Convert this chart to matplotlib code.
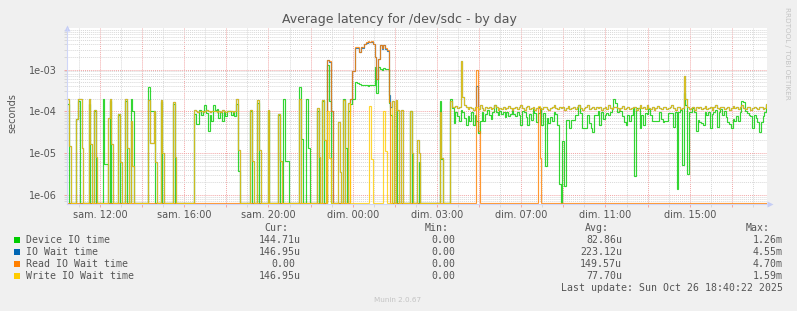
import numpy as np
import matplotlib
matplotlib.use("Agg")
import matplotlib.pyplot as plt
from matplotlib.patches import Rectangle
from matplotlib.ticker import FixedLocator, NullFormatter, FuncFormatter

# ---------------- data (microseconds, 5-minute samples) ----------------
# sample 0 = sam. 10:30 (hours relative to sam. 12:00, continuous time)
start_hour = -1.5
step_hour = 5 / 60

device_io = [
    150, 0, 0, 0, 0, 65, 180, 0, 0, 0, 0, 0, 150, 0, 0, 100, 0, 0, 0, 0,
    200, 5.5, 5.5, 0, 180, 0, 0, 0, 0, 80, 0, 0, 0, 180, 0, 0, 200, 100, 0, 0,
    0, 0, 0, 0, 0, 0, 390, 100, 100, 100, 0, 0, 0, 170, 0, 0, 0, 0, 0, 0,
    150, 0, 0, 0, 0, 0, 0, 0, 0, 0, 0, 0, 85, 50, 50, 105, 82, 100, 140, 90,
    33, 80, 57, 145, 105, 115, 68, 95, 60, 95, 75, 102, 102, 82, 95, 75, 150, 3.7, 0, 0,
    0, 0, 0, 0, 100, 0, 0, 0, 160, 0, 0, 0, 0, 0, 100, 0, 0, 0, 0, 0,
    80, 0, 0, 200, 6.5, 6.5, 0, 0, 0, 0, 0, 0, 390, 22, 0, 0, 200, 13, 0, 0,
    0, 0, 100, 0, 0, 180, 0, 0, 1270, 180, 0, 0, 0, 0, 0, 0, 0, 200, 13, 0,
    100, 150, 200, 200, 500, 480, 450, 430, 420, 420, 415, 410, 420, 415, 430, 1150, 270, 1150, 1050, 1000,
    1100, 1050, 1050, 155, 80, 0, 0, 100, 0, 0, 0, 0, 0, 0, 0, 100, 0, 0, 0, 0,
    6, 0, 0, 0, 0, 0, 0, 0, 0, 0, 0, 0, 180, 7, 0, 0, 0, 0, 200, 118,
    52, 98, 75, 57, 110, 95, 68, 47, 75, 57, 95, 47, 82, 57, 30, 57, 95, 57, 85, 108,
    82, 66, 95, 141, 95, 82, 102, 85, 95, 71, 95, 75, 85, 108, 85, 75, 95, 82, 47, 102,
    95, 71, 47, 85, 62, 114, 90, 55, 90, 118, 47, 90, 4.8, 68, 52, 71, 57, 95, 85, 47,
    1.8, 0, 19, 1.6, 62, 62, 39, 62, 62, 82, 82, 141, 90, 39, 39, 39, 82, 52, 40, 32,
    82, 82, 102, 47, 95, 66, 80, 90, 82, 95, 118, 197, 160, 95, 100, 102, 79, 55, 47, 82,
    57, 82, 118, 2.8, 118, 118, 39, 80, 47, 90, 85, 114, 80, 57, 57, 57, 57, 95, 65, 55,
    59, 57, 90, 90, 90, 43, 95, 1.35, 95, 108, 5.3, 268, 141, 3.1, 98, 95, 118, 95, 34, 62,
    55, 52, 47, 95, 82, 95, 39, 85, 95, 108, 43, 95, 114, 82, 102, 71, 55, 49, 39, 66,
    57, 75, 57, 95, 176, 170, 102, 90, 82, 75, 39, 82, 68, 55, 32, 55, 75, 95, 145,
]

write_wait = [
    200, 15, 0, 0, 0, 65, 200, 200, 13, 0, 0, 0, 200, 16, 0, 110, 8, 0, 0, 0,
    0, 0, 0, 70, 200, 16, 0, 0, 0, 85, 6, 0, 0, 200, 13, 0, 60, 5, 0, 0,
    0, 0, 0, 0, 0, 0, 190, 17, 17, 100, 6, 0, 0, 190, 10, 0, 0, 0, 0, 0,
    170, 8, 0, 0, 0, 0, 0, 0, 0, 0, 0, 0, 105, 100, 98, 102, 100, 95, 100, 105,
    100, 98, 100, 102, 100, 95, 100, 98, 105, 100, 98, 100, 102, 100, 98, 100, 200, 12, 0, 0,
    0, 0, 0, 0, 105, 6.5, 0, 0, 190, 12, 0, 0, 0, 0, 110, 0, 0, 0, 0, 0,
    85, 6.5, 0, 0, 0, 0, 0, 0, 0, 0, 0, 0, 200, 0, 0, 0, 0, 0, 0, 0,
    0, 0, 120, 8, 0, 190, 21, 0, 100, 7.5, 0, 0, 0, 0, 55, 3.5, 0, 190, 0, 0,
    160, 0, 0, 0, 0, 0, 0, 0, 0, 0, 0, 0, 135, 7, 0, 0, 0, 0, 0, 0,
    100, 11, 0, 0, 0, 180, 0, 190, 110, 0, 105, 0, 0, 0, 0, 100, 10, 0, 0, 20,
    10, 0, 0, 0, 0, 0, 0, 0, 0, 0, 0, 0, 95, 7.5, 0, 0, 0, 0, 180, 130,
    125, 135, 120, 130, 1590, 220, 140, 125, 115, 130, 120, 110, 125, 130, 115, 140, 120, 110, 125, 118,
    130, 112, 120, 140, 125, 110, 120, 115, 128, 112, 120, 135, 118, 108, 122, 130, 115, 125, 138, 118,
    110, 125, 132, 115, 120, 128, 110, 122, 135, 118, 112, 125, 130, 115, 108, 122, 128, 140, 120, 112,
    125, 118, 130, 110, 122, 135, 115, 120, 128, 112, 125, 138, 118, 110, 122, 130, 140, 115, 120, 128,
    112, 125, 118, 130, 110, 122, 128, 115, 140, 120, 112, 125, 130, 118, 110, 122, 135, 115, 120, 128,
    112, 118, 125, 130, 108, 122, 145, 118, 125, 112, 140, 120, 115, 128, 110, 122, 135, 118, 112, 125,
    130, 115, 120, 128, 138, 118, 110, 125, 130, 115, 122, 700, 200, 130, 115, 122, 128, 110, 125, 118,
    130, 112, 120, 135, 115, 122, 128, 110, 125, 140, 118, 112, 125, 130, 115, 120, 128, 110, 122, 135,
    118, 125, 112, 128, 140, 120, 115, 125, 130, 110, 122, 128, 118, 112, 125, 130, 115, 120, 147,
]

read_wait = [
    0, 0, 0, 0, 0, 0, 0, 0, 0, 0, 0, 0, 0, 0, 0, 0, 0, 0, 0, 0,
    0, 0, 0, 0, 0, 0, 0, 0, 0, 0, 0, 0, 0, 0, 0, 0, 0, 0, 0, 0,
    0, 0, 0, 0, 0, 0, 0, 0, 0, 0, 0, 0, 0, 0, 0, 0, 0, 0, 0, 0,
    0, 0, 0, 0, 0, 0, 0, 0, 0, 0, 0, 0, 0, 0, 0, 0, 0, 0, 0, 0,
    0, 0, 0, 0, 0, 0, 0, 0, 0, 0, 0, 0, 0, 0, 0, 0, 0, 0, 0, 0,
    0, 0, 0, 0, 0, 0, 0, 0, 0, 0, 0, 0, 0, 0, 0, 0, 0, 0, 0, 0,
    0, 0, 0, 0, 0, 0, 0, 0, 0, 0, 0, 0, 0, 0, 0, 0, 0, 0, 0, 0,
    0, 0, 0, 0, 0, 0, 0, 0, 1650, 1600, 100, 0, 0, 0, 0, 0, 0, 0, 0, 0,
    0, 200, 930, 930, 3400, 3400, 2700, 3500, 3400, 4100, 4500, 4700, 4600, 4700, 4200, 2000, 600, 1800, 3900, 3200,
    3900, 3200, 2900, 170, 0, 0, 0, 0, 0, 0, 0, 0, 0, 0, 0, 0, 0, 0, 0, 0,
    0, 0, 0, 0, 0, 0, 0, 0, 0, 0, 0, 0, 0, 0, 0, 0, 0, 0, 0, 0,
    0, 0, 0, 0, 0, 0, 0, 0, 0, 0, 0, 0, 0, 960, 33, 0, 0, 0, 0, 0,
    0, 0, 0, 0, 0, 0, 0, 0, 0, 0, 0, 0, 0, 0, 0, 0, 0, 0, 0, 0,
    0, 0, 0, 0, 0, 0, 0, 0, 118, 7.6, 0, 0, 0, 0, 0, 0, 0, 0, 0, 0,
    0, 0, 0, 0, 0, 0, 0, 0, 0, 0, 0, 0, 0, 0, 0, 0, 0, 0, 0, 0,
    0, 0, 0, 0, 0, 0, 0, 0, 0, 0, 0, 0, 0, 0, 0, 0, 0, 0, 0, 0,
    0, 0, 0, 0, 0, 0, 0, 0, 0, 0, 0, 0, 0, 0, 0, 0, 0, 0, 0, 0,
    0, 0, 0, 0, 0, 0, 0, 0, 0, 0, 0, 0, 0, 0, 0, 0, 0, 0, 0, 0,
    0, 0, 0, 0, 0, 0, 0, 0, 0, 0, 0, 0, 0, 0, 0, 0, 0, 0, 0, 0,
    0, 0, 0, 0, 0, 0, 0, 0, 0, 0, 0, 0, 0, 0, 0, 0, 0, 0, 0,
]

io_wait = [
    200, 15, 0, 0, 0, 65, 200, 200, 13, 0, 0, 0, 200, 16, 0, 110, 8, 0, 0, 0,
    0, 0, 0, 70, 200, 16, 0, 0, 0, 85, 6, 0, 0, 200, 13, 0, 60, 5, 0, 0,
    0, 0, 0, 0, 0, 0, 190, 17, 17, 100, 6, 0, 0, 190, 10, 0, 0, 0, 0, 0,
    170, 8, 0, 0, 0, 0, 0, 0, 0, 0, 0, 0, 105, 100, 98, 102, 100, 95, 100, 105,
    100, 98, 100, 102, 100, 95, 100, 98, 105, 100, 98, 100, 102, 100, 98, 100, 200, 12, 0, 0,
    0, 0, 0, 0, 105, 6.5, 0, 0, 190, 12, 0, 0, 0, 0, 110, 0, 0, 0, 0, 0,
    85, 6.5, 0, 0, 0, 0, 0, 0, 0, 0, 0, 0, 200, 0, 0, 0, 0, 0, 0, 0,
    0, 0, 120, 8, 0, 190, 21, 0, 1650, 1550, 100, 0, 0, 0, 55, 3.5, 0, 190, 0, 0,
    160, 200, 930, 930, 3300, 3300, 2650, 3400, 3300, 4000, 4400, 4550, 4500, 4550, 4100, 1950, 590, 1750, 3800, 3150,
    3800, 3150, 2850, 250, 130, 180, 0, 190, 110, 0, 105, 0, 0, 0, 0, 100, 10, 0, 0, 20,
    10, 0, 0, 0, 0, 0, 0, 0, 0, 0, 0, 0, 95, 7.5, 0, 0, 0, 0, 180, 130,
    125, 135, 120, 130, 1590, 220, 140, 125, 115, 130, 120, 110, 125, 400, 115, 140, 120, 110, 125, 118,
    130, 112, 120, 140, 125, 110, 120, 115, 128, 112, 120, 135, 118, 108, 122, 130, 115, 125, 138, 118,
    110, 125, 132, 115, 120, 128, 110, 122, 130, 118, 112, 125, 130, 115, 108, 122, 128, 140, 120, 112,
    125, 118, 130, 110, 122, 135, 115, 120, 128, 112, 125, 138, 118, 110, 122, 130, 140, 115, 120, 128,
    112, 125, 118, 130, 110, 122, 128, 115, 140, 120, 112, 125, 130, 118, 110, 122, 135, 115, 120, 128,
    112, 118, 125, 130, 108, 122, 145, 118, 125, 112, 140, 120, 115, 128, 110, 122, 135, 118, 112, 125,
    130, 115, 120, 128, 138, 118, 110, 125, 130, 115, 122, 700, 200, 130, 115, 122, 128, 110, 125, 118,
    130, 112, 120, 135, 115, 122, 128, 110, 125, 140, 118, 112, 125, 130, 115, 120, 128, 110, 122, 135,
    118, 125, 112, 128, 140, 120, 115, 125, 130, 110, 122, 128, 118, 112, 125, 130, 115, 120, 147,
]

series_names = ["Device IO time", "IO Wait time", "Read IO Wait time", "Write IO Wait time"]
series_colors = ["#00CC00", "#0066B3", "#FF8000", "#FFCC00"]
stat_cur = ["144.71u", "146.95u", "0.00", "146.95u"]
stat_min = ["0.00", "0.00", "0.00", "0.00"]
stat_avg = ["82.86u", "223.12u", "149.57u", "77.70u"]
stat_max = ["1.26m", "4.55m", "4.70m", "1.59m"]

tick_hours = [0, 4, 8, 12, 16, 20, 24, 28]
tick_labels = ["sam. 12:00", "sam. 16:00", "sam. 20:00", "dim. 00:00",
               "dim. 03:00", "dim. 07:00", "dim. 11:00", "dim. 15:00"]

title = "Average latency for /dev/sdc - by day"
last_update = "Last update: Sun Oct 26 18:40:22 2025"

# ---------------- figure ----------------
W, H = 797, 311
fig = plt.figure(figsize=(W / 100, H / 100), dpi=100, facecolor="#F0F0F0")
ax_l, ax_r, ax_t, ax_b = 67, 767, 28, 203.5
ax = fig.add_axes([ax_l / W, 1 - ax_b / H, (ax_r - ax_l) / W, (ax_b - ax_t) / H])
ax.set_facecolor("white")

x_min, x_max = -1.567, 31.67
y_min, y_max = 10 ** -6.21, 10 ** -2.005
ax.set_yscale("log")
ax.set_xlim(x_min, x_max)
ax.set_ylim(y_min, y_max)

n = len(device_io)
t = start_hour + step_hour * np.arange(n)
floor = y_min * 1.03
for vals, col in zip([device_io, io_wait, read_wait, write_wait], series_colors):
    v = np.array(vals, dtype=float) * 1e-6
    v = np.where(v > 0, v, floor)
    ax.plot(t, v, color=col, lw=0.85, alpha=0.8, drawstyle="steps-mid",
            solid_joinstyle="miter")

# grid
major_col = "#F2A6A6"
minor_col = "#D8D8D8"
ax.xaxis.set_major_locator(FixedLocator(np.arange(0, 31, 2)))
ax.xaxis.set_minor_locator(FixedLocator(np.arange(-1, 32, 2)))
ax.xaxis.set_major_formatter(FuncFormatter(
    lambda v, p: tick_labels[tick_hours.index(int(round(v)))] if int(round(v)) in tick_hours else ""))
ax.yaxis.set_major_locator(FixedLocator([1e-6, 1e-5, 1e-4, 1e-3]))
ax.yaxis.set_minor_locator(FixedLocator([m * 10.0 ** e for e in range(-7, -1) for m in range(2, 10)]))
ax.yaxis.set_major_formatter(FuncFormatter(lambda v, p: format(v, ".0e")))
ax.yaxis.set_minor_formatter(NullFormatter())

ax.grid(which="major", color=major_col, lw=0.7, ls=(0, (1, 1)))
ax.grid(which="minor", color=minor_col, lw=0.7, ls=(0, (1, 1)))
ax.set_axisbelow(True)

ax.tick_params(which="major", length=2, width=0.7, color=major_col,
               labelsize=7, labelcolor="#555555", pad=3)
ax.tick_params(which="minor", length=2, width=0.7, color=minor_col)
ax.tick_params(axis="y", which="major", pad=5)

for s in ["top", "right"]:
    ax.spines[s].set_visible(False)
axis_col = "#CFD6F8"
ax.spines["left"].set_color(axis_col)
ax.spines["bottom"].set_color(axis_col)
ax.spines["left"].set_linewidth(0.8)
ax.spines["bottom"].set_linewidth(0.8)

# arrows
ax.plot([0], [1.0], transform=ax.transAxes, marker="^", ms=5, color="#C5CDF5",
        clip_on=False, mec="none")
ax.plot([(770 - ax_l) / (ax_r - ax_l)], [0], transform=ax.transAxes, marker=">",
        ms=5, color="#C5CDF5", clip_on=False, mec="none")

# texts
def fx(px):
    return px / W

def fy(py):
    return 1 - py / H

txt_col = "#555555"
fig.text(fx(399), fy(19), title, ha="center", va="center", fontsize=9, color=txt_col)
fig.text(fx(12), fy(113), "seconds", rotation=90, ha="center", va="center",
         fontsize=7, color=txt_col)
fig.text(fx(787), fy(53), "RRDTOOL / TOBI OETIKER", rotation=270, ha="center",
         va="center", fontsize=5.2, color="#C4C4C4")

mono = "DejaVu Sans Mono"
fs = 7.1
hdr_y = 228
fig.text(fx(288), fy(hdr_y), "Cur:", ha="right", va="center", fontsize=fs, family=mono, color=txt_col)
fig.text(fx(449), fy(hdr_y), "Min:", ha="right", va="center", fontsize=fs, family=mono, color=txt_col)
fig.text(fx(609), fy(hdr_y), "Avg:", ha="right", va="center", fontsize=fs, family=mono, color=txt_col)
fig.text(fx(770), fy(hdr_y), "Max:", ha="right", va="center", fontsize=fs, family=mono, color=txt_col)

def place(val, right_px, y):
    r = right_px if val.endswith(("u", "m")) else right_px - 6
    fig.text(fx(r), fy(y), val, ha="right", va="center", fontsize=fs, family=mono, color=txt_col)

for k, name in enumerate(series_names):
    y = 240 + 12 * k
    fig.add_artist(Rectangle((fx(14), fy(y + 3)), 6 / W, 6 / H, transform=fig.transFigure,
                             facecolor=series_colors[k], edgecolor="none"))
    fig.text(fx(26), fy(y), name, ha="left", va="center", fontsize=fs, family=mono, color=txt_col)
    place(stat_cur[k], 301, y)
    place(stat_min[k], 461, y)
    place(stat_avg[k], 622, y)
    place(stat_max[k], 783, y)

fig.text(fx(783), fy(288), last_update, ha="right", va="center", fontsize=fs, family=mono, color=txt_col)
fig.text(fx(398), fy(300), "Munin 2.0.67", ha="center", va="center", fontsize=5.2, color="#C4C4C4")

fig.savefig("out.png", dpi=100, facecolor=fig.get_facecolor())
